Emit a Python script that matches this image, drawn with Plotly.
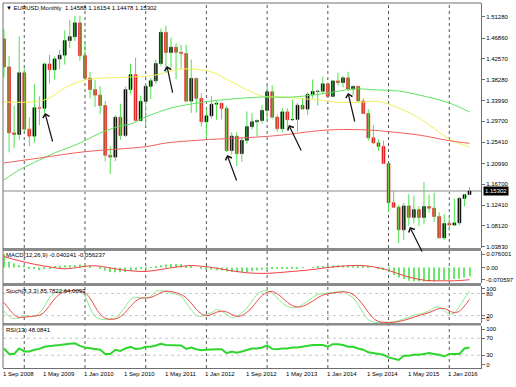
import plotly.graph_objects as go

# ---------------- data ----------------
months = list(range(93))  # 0 = Sep 2008 ... 92 = May 2016

opens = [1.4670,1.4093,1.2732,1.2698,1.3971,1.2808,1.2664,1.3250,1.3239,1.4153,
         1.4033,1.4256,1.4335,1.4636,1.4716,1.5001,1.4325,1.3862,1.3625,1.3510,
         1.3295,1.2270,1.2232,1.3053,1.2678,1.3625,1.3932,1.2985,1.3381,1.3693,
         1.3806,1.4163,1.4806,1.4390,1.4499,1.4394,1.4369,1.3387,1.3855,1.3444,
         1.2960,1.3083,1.3324,1.3341,1.3235,1.2366,1.2665,1.2304,1.2578,1.2860,
         1.2960,1.2985,1.3195,1.3580,1.3056,1.2817,1.3165,1.3002,1.3010,1.3302,
         1.3222,1.3526,1.3586,1.3590,1.3743,1.3485,1.3803,1.3769,1.3867,1.3635,
         1.3692,1.3390,1.3131,1.2631,1.2525,1.2452,1.2100,1.1291,1.1197,1.0731,
         1.1224,1.0988,1.1148,1.0986,1.1212,1.1177,1.1005,1.0566,1.0861,1.0830,
         1.0874,1.1380,1.14588]
highs = [1.4867,1.4318,1.3298,1.4720,1.4072,1.3056,1.3738,1.3485,1.4180,1.4343,
         1.4304,1.4447,1.4845,1.5062,1.5145,1.5144,1.4579,1.3988,1.3817,1.3694,
         1.3386,1.2457,1.3105,1.3334,1.3686,1.4158,1.4282,1.3500,1.3758,1.3862,
         1.4249,1.4882,1.4940,1.4698,1.4578,1.4548,1.4549,1.4247,1.3870,1.3549,
         1.3234,1.3487,1.3386,1.3362,1.3283,1.2748,1.2747,1.2637,1.3172,1.3140,
         1.3010,1.3308,1.3711,1.3711,1.3114,1.3243,1.3242,1.3417,1.3347,1.3453,
         1.3568,1.3832,1.3621,1.3894,1.3775,1.3824,1.3967,1.3906,1.3993,1.3700,
         1.3700,1.3445,1.3221,1.2887,1.2600,1.2570,1.2105,1.1534,1.1245,1.1290,
         1.1466,1.1436,1.1216,1.1714,1.1460,1.1495,1.1095,1.1059,1.1000,1.1376,
         1.1410,1.1465,1.16154]
lows = [1.3881,1.2329,1.2424,1.2583,1.2750,1.2456,1.2529,1.2888,1.3138,1.3748,
        1.3833,1.4044,1.4143,1.4482,1.4625,1.4218,1.3858,1.3444,1.3267,1.3115,
        1.2143,1.1877,1.2150,1.2588,1.2645,1.3533,1.2969,1.2970,1.2867,1.3430,
        1.3747,1.4114,1.3968,1.4070,1.3837,1.4051,1.3362,1.3145,1.3146,1.2858,
        1.2624,1.3027,1.3002,1.3004,1.2334,1.2288,1.2043,1.2134,1.2500,1.2801,
        1.2660,1.2925,1.3002,1.3019,1.2750,1.2746,1.2795,1.2980,1.2755,1.3220,
        1.3103,1.3443,1.3296,1.3530,1.3478,1.3477,1.3705,1.3673,1.3590,1.3503,
        1.3366,1.3130,1.2571,1.2500,1.2358,1.2097,1.1098,1.1180,1.0458,1.0521,
        1.0819,1.0866,1.0808,1.0847,1.1086,1.0896,1.0557,1.0524,1.0710,1.0809,
        1.0824,1.1215,1.14478]
closes = [1.4093,1.2732,1.2698,1.3971,1.2808,1.2664,1.3250,1.3239,1.4153,1.4033,
          1.4256,1.4335,1.4636,1.4716,1.5001,1.4325,1.3862,1.3625,1.3510,1.3295,
          1.2270,1.2232,1.3053,1.2678,1.3625,1.3932,1.2985,1.3381,1.3693,1.3806,
          1.4163,1.4806,1.4390,1.4499,1.4394,1.4369,1.3387,1.3855,1.3444,1.2960,
          1.3083,1.3324,1.3341,1.3235,1.2366,1.2665,1.2304,1.2578,1.2860,1.2960,
          1.2985,1.3195,1.3580,1.3056,1.2817,1.3165,1.3002,1.3010,1.3302,1.3222,
          1.3526,1.3586,1.3590,1.3743,1.3485,1.3803,1.3769,1.3867,1.3635,1.3692,
          1.3390,1.3131,1.2631,1.2525,1.2452,1.2100,1.1291,1.1197,1.0731,1.1224,
          1.0988,1.1148,1.0986,1.1212,1.1177,1.1005,1.0566,1.0861,1.0830,1.0874,
          1.1380,1.1455,1.15302]

# moving averages
ma_yellow_x = [0, 8, 12, 16, 25, 30, 35, 41, 45, 51, 55, 62, 67, 71, 74, 78, 82, 84, 88, 92]
ma_yellow_y = [1.3368, 1.3410, 1.3657, 1.3822, 1.3884, 1.3925, 1.4049, 1.3987, 1.3781, 1.3492,
               1.3471, 1.3410, 1.3358, 1.3368, 1.3379, 1.3244, 1.3038, 1.2894, 1.2605, 1.2440]
ma_green_x = [0, 3, 7, 10, 15, 19, 23, 25, 28, 33, 37, 41, 45, 51, 57, 64, 69, 74, 78, 82, 88, 92]
ma_green_y = [1.1759, 1.1965, 1.2172, 1.2316, 1.2522, 1.2729, 1.2873, 1.2914, 1.3059, 1.3244, 1.3327,
              1.3389, 1.3430, 1.3471, 1.3471, 1.3554, 1.3636, 1.3616, 1.3595, 1.3513, 1.3348, 1.3162]
ma_red_x = [0, 7, 16, 28, 32, 39, 51, 55, 64, 72, 76, 82, 88, 92]
ma_red_y = [1.2110, 1.2213, 1.2343, 1.2446, 1.2522, 1.2584, 1.2652, 1.2687, 1.2791, 1.2791,
            1.2756, 1.2687, 1.2570, 1.2516]

macd_main = [0.061,0.027,0.020,0.012,0.010,-0.005,-0.007,-0.012,-0.008,-0.004,
             0.004,0.008,0.010,0.012,0.012,0.014,0.010,0.005,0.000,-0.005,
             -0.015,-0.020,-0.022,-0.022,-0.020,-0.015,-0.012,-0.005,-0.003,0.002,
             0.005,0.010,0.014,0.016,0.017,0.016,0.008,0.005,0.000,-0.004,
             -0.008,-0.010,-0.012,-0.014,-0.018,-0.020,-0.022,-0.022,-0.020,-0.017,
             -0.014,-0.010,-0.006,-0.005,-0.006,-0.006,-0.006,-0.005,-0.004,-0.002,
             0.000,0.002,0.004,0.006,0.008,0.009,0.010,0.011,0.011,0.010,
             0.009,0.006,0.003,0.000,-0.004,-0.011,-0.018,-0.034,-0.046,-0.053,
             -0.061,-0.064,-0.064,-0.064,-0.064,-0.064,-0.060,-0.060,-0.056,-0.053,
             -0.052,-0.046,-0.040]
macd_signal_x = [0,3,6,9,12,15,17,19,22,25,28,31,34,37,39,42,45,48,51,54,57,60,63,66,69,71,
                 73,75,77,79,81,83,85,87,89,91,92]
macd_signal_y = [0.050,0.031,0.015,0.003,-0.006,0.002,0.008,0.006,-0.006,-0.015,-0.018,-0.009,
                 0.002,0.009,0.006,-0.003,-0.015,-0.024,-0.027,-0.024,-0.018,-0.012,-0.003,0.005,
                 0.009,0.009,0.003,-0.006,-0.021,-0.037,-0.049,-0.058,-0.061,-0.061,-0.061,-0.058,-0.056]

stoch_k = [32,18,12,14,20,18,18,27,45,68,81,86,88,88,87,87,72,41,18,11,
           9,11,14,27,45,63,69,68,66,72,86,87,86,81,78,72,54,36,20,18,
           23,27,36,32,23,14,18,27,41,59,77,86,87,81,68,54,45,41,43,50,
           59,69,77,79,81,83,84,86,77,68,50,27,9,3,1,1,2,3,6,11,
           15,21,24,27,33,41,43,33,24,27,45,66,86]
stoch_d = [55,38,22,15,16,17,19,21,30,47,65,78,85,87,88,87,82,67,44,24,
           13,10,11,17,29,45,59,67,68,69,75,82,86,85,82,77,68,54,37,25,
           20,23,29,32,30,23,18,20,29,42,59,74,83,85,79,68,56,47,43,45,
           51,59,68,75,79,81,83,84,83,77,65,48,29,13,4,2,1,2,4,7,
           11,16,20,24,28,34,39,39,33,28,32,46,64]
rsi = [46,33,33,46,39,39,43,45,50,52,53,54,56,57,58,52,48,46,45,43,
       33,33,43,40,46,50,45,46,50,50,53,57,54,54,54,53,45,48,44,42,
       43,44,44,44,35,39,36,39,43,46,46,48,53,45,44,46,46,48,48,50,
       52,54,54,54,50,56,56,54,50,50,46,43,37,35,33,31,25,22,19,29,
       29,31,31,33,35,33,31,27,33,33,33,46,48]

x_tick_pos = [0, 8, 16, 24, 32, 40, 48, 56, 64, 72, 80, 88]
x_tick_text = ["1 Sep 2008", "1 May 2009", "1 Jan 2010", "1 Sep 2010", "1 May 2011", "1 Jan 2012",
               "1 Sep 2012", "1 May 2013", "1 Jan 2014", "1 Sep 2014", "1 May 2015", "1 Jan 2016"]
year_grid = [4, 16, 28, 40, 52, 64, 76, 88]
price_ticks = [1.51280, 1.46860, 1.42570, 1.38280, 1.33990, 1.29700, 1.25410,
               1.20990, 1.16700, 1.12410, 1.08120, 1.03830]

# arrows: head at (month, price)
arrow_month = [8.1, 32.2, 44.1, 56.3, 68.0, 80.2]
arrow_price = [1.3141, 1.4111, 1.2275, 1.2894, 1.3554, 1.0789]
arrow_tail_px = [(8, 30), (6, 28), (10, 27), (13, 27), (7, 30), (13, 26)]

# ---------------- styling ----------------
FONT = "Liberation Sans, Arial, sans-serif"
FS = 6
WICK = "#4fe04f"
BULL = "#000000"
BEAR = "#e41c1c"
AXC = "#6e6e6e"

H_TOP, H_BOT = 3, 368  # pixel rows of plot area
def py(y):
    return (H_BOT - y) / (H_BOT - H_TOP)

fig = go.Figure()

# wicks
wx, wy = [], []
for i, h, l in zip(months, highs, lows):
    wx += [i, i, None]
    wy += [l, h, None]
fig.add_trace(go.Scatter(x=wx, y=wy, mode="lines", line=dict(color=WICK, width=1),
                         hoverinfo="skip", yaxis="y"))

# bodies
base = [min(o, c) for o, c in zip(opens, closes)]
hgt = [abs(c - o) for o, c in zip(opens, closes)]
cols = [BULL if c >= o else BEAR for o, c in zip(opens, closes)]
fig.add_trace(go.Bar(x=months, y=hgt, base=base, width=0.58,
                     marker=dict(color=cols, line=dict(color=cols, width=0.6)), yaxis="y"))

# moving averages
fig.add_trace(go.Scatter(x=ma_yellow_x, y=ma_yellow_y, mode="lines",
                         line=dict(color="#f2f05a", width=1, shape="spline"), yaxis="y"))
fig.add_trace(go.Scatter(x=ma_green_x, y=ma_green_y, mode="lines",
                         line=dict(color="#5fe35f", width=1, shape="spline"), yaxis="y"))
fig.add_trace(go.Scatter(x=ma_red_x, y=ma_red_y, mode="lines",
                         line=dict(color="#f06060", width=1, shape="spline"), yaxis="y"))

# MACD
fig.add_trace(go.Bar(x=months, y=macd_main, width=0.2, marker=dict(color="#6ce66c", line=dict(width=0)),
                     yaxis="y2"))
fig.add_trace(go.Scatter(x=macd_signal_x, y=macd_signal_y, mode="lines",
                         line=dict(color="#f04040", width=1, shape="spline"), yaxis="y2"))

# Stochastic
fig.add_trace(go.Scatter(x=months, y=stoch_k, mode="lines",
                         line=dict(color="#8ee88e", width=1, shape="spline"), yaxis="y3"))
fig.add_trace(go.Scatter(x=months, y=stoch_d, mode="lines",
                         line=dict(color="#f04848", width=1, shape="spline"), yaxis="y3"))

# RSI
fig.add_trace(go.Scatter(x=months, y=rsi, mode="lines",
                         line=dict(color="#2ed62e", width=2), yaxis="y4"))

shapes = []
for g in year_grid:
    shapes.append(dict(type="line", xref="x", yref="paper", x0=g, x1=g, y0=0, y1=1,
                       line=dict(color="#555555", width=1, dash="dot"), layer="below"))
shapes.append(dict(type="line", xref="paper", yref="y", x0=0, x1=1, y0=closes[-1], y1=closes[-1],
                   line=dict(color="#c4c4c4", width=2), layer="below"))
for lv in (20, 80):
    shapes.append(dict(type="line", xref="paper", yref="y3", x0=0, x1=1, y0=lv, y1=lv,
                       line=dict(color="#c8c8c8", width=1, dash="dot"), layer="below"))
for lv in (30, 70):
    shapes.append(dict(type="line", xref="paper", yref="y4", x0=0, x1=1, y0=lv, y1=lv,
                       line=dict(color="#c8c8c8", width=1, dash="dot"), layer="below"))
for a, b in ((248, 251), (283, 286), (323, 325.5)):
    shapes.append(dict(type="rect", xref="paper", yref="paper", x0=0, x1=1, y0=py(b), y1=py(a),
                       fillcolor="#8a8a8a", line=dict(width=0), layer="above"))
shapes.append(dict(type="line", xref="paper", yref="paper", x0=0, x1=1, y0=1, y1=1,
                   line=dict(color=AXC, width=1)))
shapes.append(dict(type="line", xref="paper", yref="paper", x0=0, x1=0, y0=0, y1=1,
                   line=dict(color=AXC, width=1)))

ann = []
ann.append(dict(text="▼ EURUSD,Monthly  1.14588 1.16154 1.14478 1.15302", xref="paper", yref="paper",
                x=0, y=1, xanchor="left", yanchor="top", xshift=1, showarrow=False,
                font=dict(family=FONT, size=FS, color="#000")))
ann.append(dict(text="MACD(12,26,9) -0.040241 -0.056237", xref="paper", yref="paper",
                x=0, y=py(251), xanchor="left", yanchor="top", xshift=1, yshift=1, showarrow=False,
                font=dict(family=FONT, size=FS, color="#000")))
ann.append(dict(text="Stoch(8,3,3) 85.7822 64.0093", xref="paper", yref="paper",
                x=0, y=py(286), xanchor="left", yanchor="top", xshift=1, showarrow=False,
                font=dict(family=FONT, size=FS, color="#000")))
ann.append(dict(text="RSI(13) 48.0841", xref="paper", yref="paper",
                x=0, y=py(325), xanchor="left", yanchor="top", xshift=1, showarrow=False,
                font=dict(family=FONT, size=FS, color="#000")))
for p, t in zip(x_tick_pos, x_tick_text):
    ann.append(dict(text=t, xref="x", yref="paper", x=p, y=0, xanchor="left", yanchor="top",
                    xshift=-3, yshift=-1, showarrow=False,
                    font=dict(family=FONT, size=FS, color="#000")))
ann.append(dict(text="1.15302", xref="paper", yref="y", x=1, y=closes[-1], xanchor="left",
                yanchor="middle", xshift=2, showarrow=False, bgcolor="#000000", borderpad=1,
                font=dict(family=FONT, size=FS, color="#ffffff")))
for m, p, (dx, dy) in zip(arrow_month, arrow_price, arrow_tail_px):
    ann.append(dict(text="", x=m, y=p, xref="x", yref="y", ax=dx, ay=dy, showarrow=True,
                    arrowhead=4, arrowsize=1.1, arrowwidth=1.2, arrowcolor="#111111",
                    standoff=0, startstandoff=0))

tickfont = dict(family=FONT, size=FS, color="#000")
common_y = dict(side="right", anchor="x", showgrid=False, zeroline=False, showline=True,
                linecolor=AXC, linewidth=1, ticks="outside", ticklen=3, tickcolor=AXC,
                tickfont=tickfont, fixedrange=True)

fig.update_layout(
    width=516, height=387,
    margin=dict(l=3, r=35, t=3, b=19, pad=0),
    paper_bgcolor="#ffffff", plot_bgcolor="#ffffff",
    showlegend=False, barmode="overlay", hovermode=False,
    xaxis=dict(domain=[0, 1], range=[-0.2, 94.27], showticklabels=False, showgrid=False,
               zeroline=False, showline=True, linecolor=AXC, anchor="y4", ticks="", fixedrange=True),
    yaxis=dict(domain=[py(248), 1], range=[1.0356, 1.5411],
               tickvals=price_ticks, ticktext=["%.5f" % v for v in price_ticks], **common_y),
    yaxis2=dict(domain=[py(283), py(251)], range=[-0.0710, 0.0758],
                tickvals=[0.0618, 0.0, -0.0572], ticktext=["0.076001", "0.00", "-0.070597"], **common_y),
    yaxis3=dict(domain=[py(323), py(286)], range=[0, 100],
                tickvals=[92.5, 80, 20, 11], ticktext=["100", "80", "20", "0"], **common_y),
    yaxis4=dict(domain=[0, py(325.5)], range=[0, 100],
                tickvals=[91, 70, 30, 8], ticktext=["100", "70", "30", "0"], **common_y),
    shapes=shapes, annotations=ann,
)

fig.write_html("out.html", config={"displayModeBar": False, "staticPlot": False},
               post_script="document.body.style.margin='0';document.body.style.overflow='hidden';")
